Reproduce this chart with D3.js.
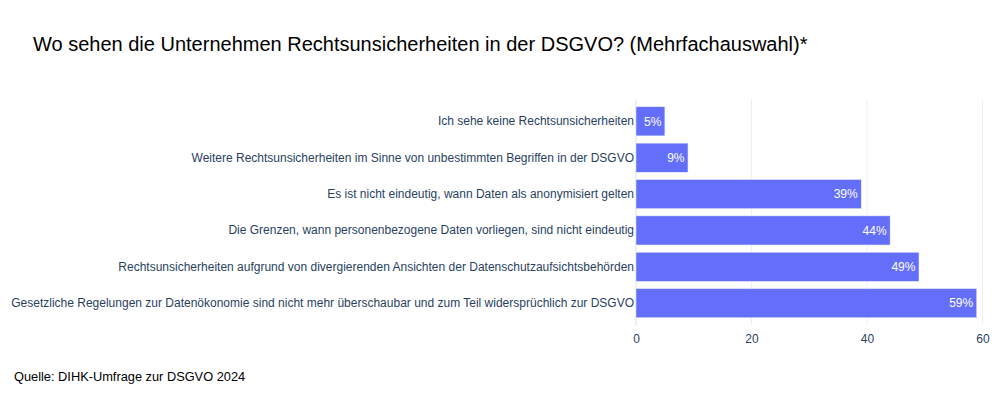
<!DOCTYPE html>
<html><head><meta charset="utf-8">
<script src="https://cdn.jsdelivr.net/npm/d3@7"></script>
<style>body{margin:0;background:#fff}svg{display:block}</style>
</head><body>
<svg id="chart" width="998" height="408"></svg>
<script>
const categories = [
  "Ich sehe keine Rechtsunsicherheiten",
  "Weitere Rechtsunsicherheiten im Sinne von unbestimmten Begriffen in der DSGVO",
  "Es ist nicht eindeutig, wann Daten als anonymisiert gelten",
  "Die Grenzen, wann personenbezogene Daten vorliegen, sind nicht eindeutig",
  "Rechtsunsicherheiten aufgrund von divergierenden Ansichten der Datenschutzaufsichtsbehörden",
  "Gesetzliche Regelungen zur Datenökonomie sind nicht mehr überschaubar und zum Teil widersprüchlich zur DSGVO"
];
const values = [5, 9, 39, 44, 49, 59];
const xTicks = [0, 20, 40, 60];
const title = "Wo sehen die Unternehmen Rechtsunsicherheiten in der DSGVO? (Mehrfachauswahl)*";
const source = "Quelle: DIHK-Umfrage zur DSGVO 2024";

(function () {
const svg = d3.select("#chart");
const font = "'Liberation Sans', Arial, sans-serif";
const pLeft = 636, pRight = 982.5, pTop = 99.5, pBottom = 325;

const x = d3.scaleLinear().domain([0, 60]).range([pLeft, pRight]);
const y = d3.scaleBand().domain(categories).range([pTop, pBottom]).padding(0.2);

// gridlines
svg.append("g").selectAll("line").data(xTicks.filter(d => d !== 0)).join("line")
  .attr("x1", d => x(d)).attr("x2", d => x(d))
  .attr("y1", pTop).attr("y2", pBottom)
  .attr("stroke", "#EBF0F8").attr("stroke-width", 1);
// zero line
svg.append("line").attr("x1", x(0)).attr("x2", x(0)).attr("y1", pTop).attr("y2", pBottom)
  .attr("stroke", "#EBF0F8").attr("stroke-width", 2);

// bars
svg.append("g").selectAll("rect").data(values).join("rect")
  .attr("x", x(0))
  .attr("y", (d, i) => y(categories[i]))
  .attr("width", d => x(d) - x(0))
  .attr("height", y.bandwidth())
  .attr("fill", "#636efa")
  .attr("stroke", "#E5ECF6").attr("stroke-width", 0.5);

// bar text
svg.append("g").selectAll("text").data(values).join("text")
  .attr("x", d => x(d) - 3.5)
  .attr("y", (d, i) => y(categories[i]) + y.bandwidth() / 2 + 4.2)
  .attr("text-anchor", "end")
  .attr("font-family", font).attr("font-size", 12)
  .attr("fill", "#ffffff")
  .text(d => d + "%");

// y axis
const yAxis = d3.axisLeft(y).tickSize(0).tickPadding(2);
const gy = svg.append("g").attr("transform", `translate(${pLeft},0)`).call(yAxis);
gy.select(".domain").remove();
gy.selectAll("text").attr("font-family", font).attr("font-size", 12).attr("fill", "#2a3f5f");

// x axis
const xAxis = d3.axisBottom(x).tickValues(xTicks).tickSize(0).tickPadding(9);
const gx = svg.append("g").attr("transform", `translate(0,${pBottom})`).call(xAxis);
gx.select(".domain").remove();
gx.selectAll("text").attr("font-family", font).attr("font-size", 12).attr("fill", "#2a3f5f");

// title
svg.append("text").attr("x", 33).attr("y", 51)
  .attr("font-family", font).attr("font-size", 20).attr("fill", "#000")
  .text(title);

// source
svg.append("text").attr("x", 14).attr("y", 380.5)
  .attr("font-family", font).attr("font-size", 12.8).attr("fill", "#000")
  .text(source);
})();
</script>
</body></html>
